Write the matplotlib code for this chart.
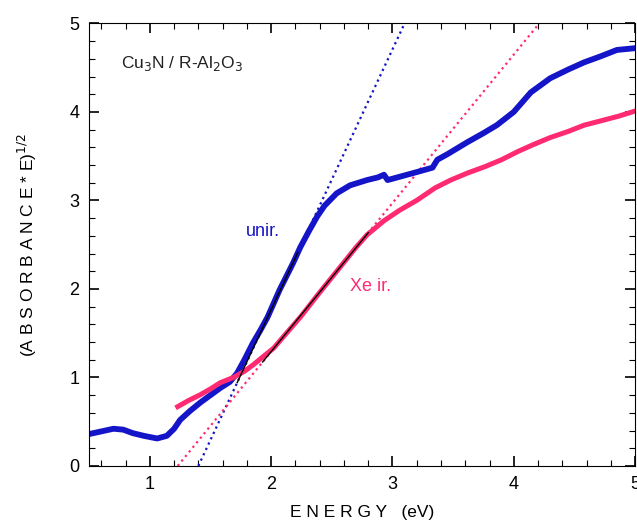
import matplotlib.pyplot as plt
from matplotlib.ticker import MultipleLocator

plt.rcParams['font.family'] = ['Liberation Sans', 'DejaVu Sans']

# unirradiated sample (blue)
unir_e = [0.50, 0.60, 0.70, 0.78, 0.86, 0.95, 1.06, 1.14, 1.20, 1.25, 1.33, 1.42,
          1.50, 1.58, 1.66, 1.72, 1.78, 1.85, 1.91, 1.97, 2.07, 2.18, 2.24, 2.31,
          2.38, 2.44, 2.54, 2.65, 2.79, 2.88, 2.93, 2.96, 3.04, 3.20, 3.33, 3.37,
          3.45, 3.62, 3.75, 3.86, 4.00, 4.14, 4.30, 4.45, 4.58, 4.72, 4.85, 5.00]
unir_y = [0.36, 0.39, 0.42, 0.41, 0.37, 0.34, 0.31, 0.34, 0.42, 0.52, 0.62, 0.72,
          0.80, 0.88, 0.95, 1.05, 1.20, 1.39, 1.53, 1.68, 1.99, 2.29, 2.47, 2.65,
          2.82, 2.94, 3.08, 3.17, 3.23, 3.26, 3.29, 3.23, 3.26, 3.32, 3.37, 3.46,
          3.52, 3.66, 3.76, 3.85, 4.00, 4.22, 4.38, 4.48, 4.56, 4.63, 4.70, 4.72]

# Xe irradiated sample (pink)
xe_e = [1.23, 1.32, 1.41, 1.50, 1.58, 1.69, 1.78, 1.85, 1.93, 2.02, 2.12, 2.24,
        2.32, 2.40, 2.50, 2.60, 2.70, 2.79, 2.93, 3.06, 3.20, 3.35, 3.48, 3.62,
        3.76, 3.90, 4.03, 4.16, 4.30, 4.45, 4.58, 4.72, 4.86, 5.00]
xe_y = [0.67, 0.74, 0.80, 0.87, 0.94, 1.00, 1.07, 1.14, 1.23, 1.33, 1.49, 1.68,
        1.82, 1.96, 2.13, 2.30, 2.47, 2.61, 2.77, 2.89, 3.00, 3.14, 3.23, 3.31,
        3.38, 3.46, 3.55, 3.63, 3.71, 3.78, 3.85, 3.90, 3.95, 4.01]

# linear fits: energies where the extrapolated lines hit y = 0 and y = 5
unir_fit_e = [1.40, 3.10]
xe_fit_e = [1.23, 4.21]
fit_y = [0, 5]
# ranges of the fitted region (black)
unir_fit_range = [1.72, 2.22]
xe_fit_range = [1.93, 2.80]

blue = '#1414c8'
pink = '#ff2a72'

fig, ax = plt.subplots(figsize=(6.37, 5.20), dpi=100)
fig.subplots_adjust(left=0.14, right=0.997, top=0.955, bottom=0.104)

ax.plot(unir_fit_e, fit_y, ls=':', color=blue, lw=1.6)
ax.plot(xe_fit_e, fit_y, ls=':', color=pink, lw=1.6)

ax.plot(unir_e, unir_y, color=blue, lw=4.2)
ax.plot(xe_e, xe_y, color=pink, lw=3.6)

# black fitted segments on top of the data
def fit_seg(e_fit, rng):
    slope = (fit_y[1] - fit_y[0]) / (e_fit[1] - e_fit[0])
    return rng, [slope * (r - e_fit[0]) for r in rng]

sx, sy = fit_seg(unir_fit_e, unir_fit_range)
ax.plot(sx, sy, color='black', lw=1.0)
sx, sy = fit_seg(xe_fit_e, xe_fit_range)
ax.plot(sx, sy, color='black', lw=1.0)

ax.text(1.79, 2.6, 'unir.', color=blue, fontsize=13)
ax.text(2.65, 1.98, 'Xe ir.', color=pink, fontsize=13)
ax.text(0.76, 4.5, r'Cu$_3$N / R-Al$_2$O$_3$', color='#222222', fontsize=12.5)

ax.set_xlim(0.5, 5)
ax.set_ylim(0, 5)
ax.xaxis.set_major_locator(MultipleLocator(1))
ax.xaxis.set_minor_locator(MultipleLocator(0.2))
ax.yaxis.set_major_locator(MultipleLocator(1))
ax.yaxis.set_minor_locator(MultipleLocator(0.2))
ax.tick_params(which='both', direction='in', top=True, right=True, labelsize=13)
ax.tick_params(which='major', length=7, width=1.2, pad=7)
ax.tick_params(which='minor', length=4, width=0.8)
ax.xaxis.set_major_formatter(plt.FuncFormatter(lambda v, p: '%d' % v))

ax.set_xlabel('E N E R G Y   (eV)', fontsize=12.5, labelpad=9)
ax.set_ylabel(r'(A B S O R B A N C E * E)$^{1/2}$', fontsize=12.5, labelpad=22)

fig.savefig('out.png', dpi=100)
